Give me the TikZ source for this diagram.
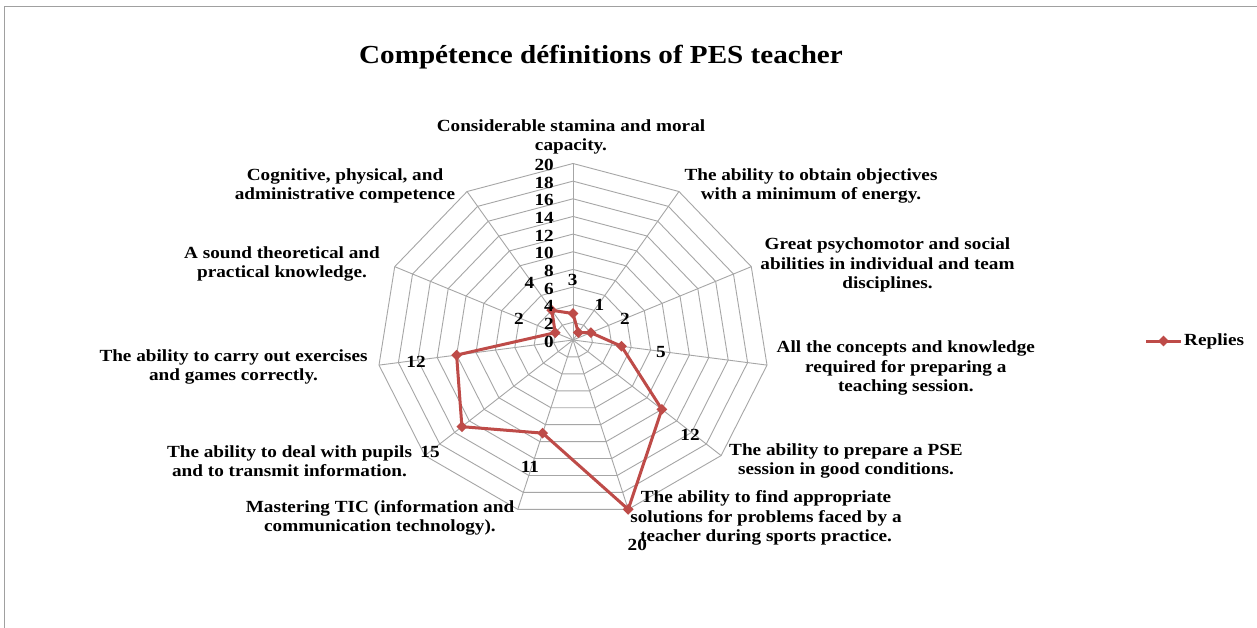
\documentclass[tikz,border=0pt]{standalone}
\usepackage{fontspec}
\setmainfont{Liberation Serif}
\usetikzlibrary{shapes.geometric}
\definecolor{series}{HTML}{BE4B48}
\definecolor{gridc}{HTML}{A6A6A6}
\definecolor{framec}{HTML}{A0A0A0}
\begin{document}
\begin{tikzpicture}[x=1pt,y=-1pt,
  lbl/.style={font=\fontsize{17}{19.5}\selectfont\bfseries, align=center, xscale=1.13, inner sep=0pt, text=black},
  num/.style={font=\fontsize{17}{19.5}\selectfont\bfseries, xscale=1.13, inner sep=0pt, text=black},
  ttl/.style={font=\fontsize{26}{30}\selectfont\bfseries, xscale=1.12, inner sep=0pt},
  gridline/.style={draw=gridc, line width=0.9pt},
  serline/.style={draw=series, line width=3pt, line join=round, line cap=round},
  marker/.style={diamond, fill=series, inner sep=0pt, minimum size=11pt}]
\useasboundingbox (0,0) rectangle (1257,628);
\fill[white] (0,0) rectangle (1257,628);
\draw[framec, line width=1.5pt] (4.5,628) -- (4.5,6.5) -- (1257,6.5);
\node[ttl] (title) at (601,57) {Compétence définitions of PES teacher};
% radar
\begin{scope}[shift={(573,340)}, x=9.8pt, y=8.825pt]
  \foreach \r in {2,4,...,20}
    \draw[gridline] (90:\r) \foreach \k in {1,...,10}{ -- ({90-\k*360/11}:\r)} -- cycle;
  \foreach \k in {0,...,10}
    \draw[gridline] (0,0) -- ({90-\k*360/11}:20);
  \foreach \v [count=\i from 0] in {3,1,2,5,12,20,11,15,12,2,4}
    \coordinate (p\i) at ({90-\i*360/11}:\v);
  \draw[serline] (p0) -- (p1) -- (p2) -- (p3) -- (p4) -- (p5) -- (p6) -- (p7) -- (p8) -- (p9) -- (p10) -- cycle;
  \foreach \i in {0,...,10}
    \node[marker] (m\i) at (p\i) {};
\end{scope}
% axis values
\foreach \v in {0,2,...,20}
  \node[num, anchor=east] (ax\v) at (554, {340-\v*8.825+1.5}) {\v};
% data labels
\node[num] (d0) at (572.7,280) {3};
\node[num] (d1) at (599.3,305) {1};
\node[num] (d2) at (625,319.3) {2};
\node[num] (d3) at (661,352) {5};
\node[num] (d4) at (690,435) {12};
\node[num] (d5) at (637.3,545) {20};
\node[num] (d6) at (530,466.7) {11};
\node[num] (d7) at (430,451.7) {15};
\node[num] (d8) at (416,362.3) {12};
\node[num] (d9) at (519,319.3) {2};
\node[num] (d10) at (529.3,282.7) {4};
% category labels
\node[lbl] (c0) at (571,137) {Considerable stamina and moral\\capacity.};
\node[lbl] (c1) at (811,186) {The ability to obtain objectives\\with a minimum of energy.};
\node[lbl] (c2) at (887.5,265) {Great psychomotor and social\\abilities in individual and team\\disciplines.};
\node[lbl] (c3) at (905.8,368) {All the concepts and knowledge\\required for preparing a\\teaching session.};
\node[lbl] (c4) at (846,461) {The ability to prepare a PSE\\session in good conditions.};
\node[lbl] (c5) at (766,518) {The ability to find appropriate\\solutions for problems faced by a\\teacher during sports practice.};
\node[lbl] (c6) at (380,518) {Mastering TIC (information and\\communication technology).};
\node[lbl] (c7) at (289.5,461) {The ability to deal with pupils\\and to transmit information.};
\node[lbl] (c8) at (233.5,367) {The ability to carry out exercises\\and games correctly.};
\node[lbl] (c9) at (282,264) {A sound theoretical and\\practical knowledge.};
\node[lbl] (c10) at (345,186) {Cognitive, physical, and\\administrative competence};
% legend
\coordinate (la) at (1146,341);
\coordinate (lb) at (1181,341);
\draw[serline, line cap=butt] (la) -- (lb);
\node[marker] (lm) at (1163.5,341) {};
\node[num, anchor=west] (legtext) at (1184,341) {Replies};
\end{tikzpicture}
\end{document}
